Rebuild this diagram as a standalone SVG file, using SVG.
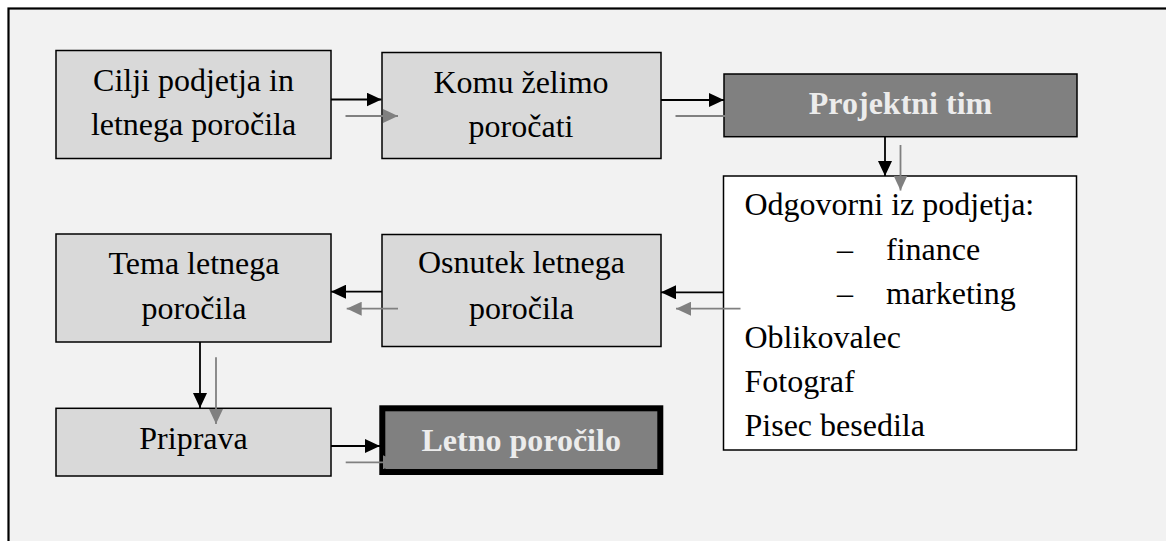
<svg xmlns="http://www.w3.org/2000/svg" width="1166" height="541" viewBox="0 0 1166 541">
<style>
.t{font-family:"Liberation Serif","Times New Roman",serif;font-size:32px;fill:#000}
.b{font-family:"Liberation Serif","Times New Roman",serif;font-size:32px;font-weight:bold;fill:#ececec}
.lt{fill:#d9d9d9;stroke:#000;stroke-width:1.5}
.dk{fill:#808080;stroke:#000;stroke-width:1.5}
.k{stroke:#000;stroke-width:1.8;fill:none}
.g{stroke:#808080;stroke-width:1.8;fill:none}
</style>
<defs>
<marker id="ak" viewBox="0 0 15 14" refX="15" refY="7" markerWidth="15" markerHeight="14" markerUnits="userSpaceOnUse" orient="auto"><path d="M0,0 L15,7 L0,14 z" fill="#000"/></marker>
<marker id="ag" viewBox="0 0 15 14" refX="15" refY="7" markerWidth="15" markerHeight="14" markerUnits="userSpaceOnUse" orient="auto"><path d="M0,0 L15,7 L0,14 z" fill="#808080"/></marker>
</defs>
<rect x="0" y="0" width="1166" height="541" fill="#fff"/>
<rect x="8.5" y="8.5" width="1170" height="545" fill="#f2f2f2" stroke="#000" stroke-width="2.2"/>
<g id="n1"><rect class="lt" x="56" y="50.5" width="275" height="108"/><text class="t" x="193.5" y="91" text-anchor="middle">Cilji podjetja in</text><text class="t" x="193.5" y="135" text-anchor="middle">letnega poročila</text></g>
<g id="n2"><rect class="lt" x="382" y="52.5" width="279" height="106"/><text class="t" x="521" y="93.3" text-anchor="middle">Komu želimo</text><text class="t" x="521" y="137.3" text-anchor="middle">poročati</text></g>
<g id="n3"><rect class="dk" x="724" y="74" width="353" height="62.7"/><text class="b" x="900.5" y="114" text-anchor="middle">Projektni tim</text></g>
<g id="n4"><rect x="723.5" y="176" width="353" height="274" fill="#fff" stroke="#000" stroke-width="1.5"/>
<text class="t" x="744.5" y="215">Odgovorni iz podjetja:</text>
<text class="t" x="837" y="260">–</text><text class="t" x="886" y="260">finance</text>
<text class="t" x="837" y="304">–</text><text class="t" x="886" y="304">marketing</text>
<text class="t" x="744.5" y="348.3">Oblikovalec</text>
<text class="t" x="744.5" y="392.3">Fotograf</text>
<text class="t" x="744.5" y="436">Pisec besedila</text></g>
<g id="n5"><rect class="lt" x="382" y="234.5" width="279" height="112"/><text class="t" x="521.5" y="273.3" text-anchor="middle">Osnutek letnega</text><text class="t" x="521.5" y="318.7" text-anchor="middle">poročila</text></g>
<g id="n6"><rect class="lt" x="56" y="234" width="275" height="108"/><text class="t" x="194" y="274" text-anchor="middle">Tema letnega</text><text class="t" x="194" y="319.3" text-anchor="middle">poročila</text></g>
<g id="n7"><rect class="lt" x="56" y="408.3" width="275" height="67.7"/><text class="t" x="193.5" y="449.3" text-anchor="middle">Priprava</text></g>
<g id="n8"><rect x="382.3" y="408.3" width="278" height="63.7" fill="#808080" stroke="#000" stroke-width="6"/><text class="b" x="521.2" y="450.7" text-anchor="middle">Letno poročilo</text></g>
<g id="connectors">
<path class="k" d="M331,99.5 H381.5" marker-end="url(#ak)"/>
<path class="g" d="M345.5,116 H398" marker-end="url(#ag)"/>
<path class="k" d="M661,100 H724" marker-end="url(#ak)"/>
<path class="g" d="M675.5,116 H740" marker-end="url(#ag)"/>
<path class="k" d="M885,137 V176" marker-end="url(#ak)"/>
<path class="g" d="M900.5,145 V190.5" marker-end="url(#ag)"/>
<path class="k" d="M723.5,292.3 H661" marker-end="url(#ak)"/>
<path class="g" d="M740.5,308.7 H676" marker-end="url(#ag)"/>
<path class="k" d="M382,291.7 H331" marker-end="url(#ak)"/>
<path class="g" d="M398,308.7 H346.7" marker-end="url(#ag)"/>
<path class="k" d="M200,342 V408" marker-end="url(#ak)"/>
<path class="g" d="M216,357.3 V424" marker-end="url(#ag)"/>
<path class="k" d="M331,446 H380" marker-end="url(#ak)"/>
<path class="g" d="M345.7,462.3 H398" marker-end="url(#ag)"/>
</g>
</svg>
